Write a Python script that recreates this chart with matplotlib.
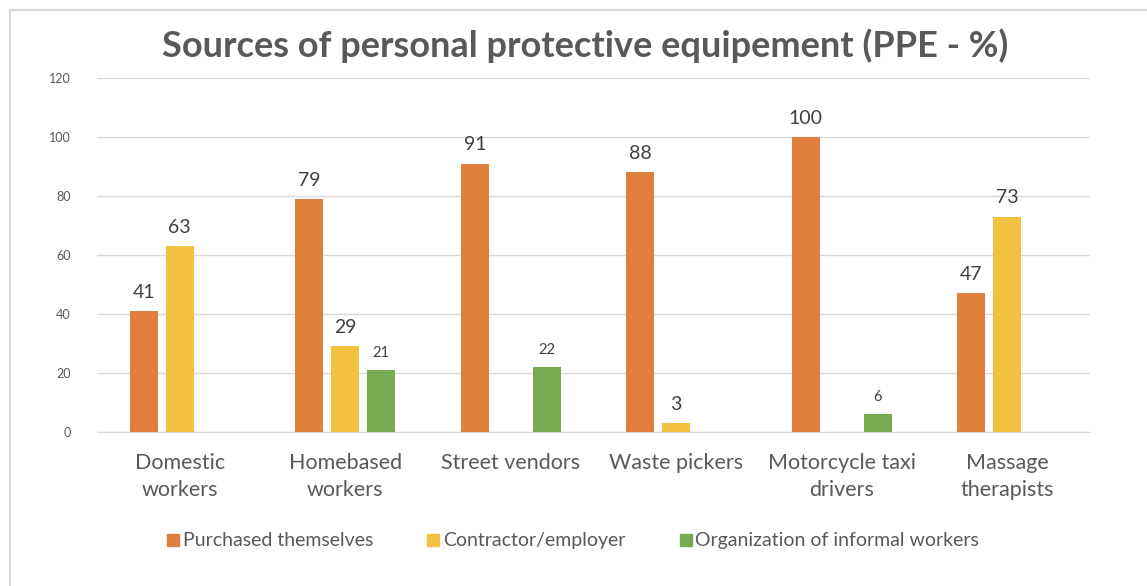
import matplotlib
matplotlib.use("Agg")
import numpy as np
import matplotlib.pyplot as plt
from matplotlib.lines import Line2D

plt.rcParams['font.family'] = ['Lato', 'DejaVu Sans']

categories = ["Domestic\nworkers", "Homebased\nworkers", "Street vendors",
              "Waste pickers", "Motorcycle taxi\ndrivers", "Massage\ntherapists"]
series_names = ["Purchased themselves", "Contractor/employer",
                "Organization of informal workers"]
purchased = [41, 79, 91, 88, 100, 47]
contractor = [63, 29, None, 3, None, 73]
organization = [None, 21, 22, None, 6, None]
colors = ["#E0803F", "#F3C140", "#78AA52"]

# small labels in the original (Excel used a smaller font on these)
small_labels = {(2, 1), (2, 2), (2, 4)}

fig = plt.figure(figsize=(11.47, 5.86), dpi=100)
ax = fig.add_axes([0.0846, 0.2628, 0.8657, 0.6041])

x = np.arange(len(categories))
step = 0.2175
width = 0.17
txt_col = "#595959"

for si, vals in enumerate([purchased, contractor, organization]):
    off = (si - 1) * step
    for ci, v in enumerate(vals):
        if v is None:
            continue
        ax.bar(x[ci] + off, v, width=width, color=colors[si], zorder=3)
        fs = 10.5 if (si, ci) in small_labels else 14
        ax.text(x[ci] + off, v + 3.5, str(v), ha="center", va="bottom",
                fontsize=fs, color="#404040")

ax.set_xlim(-0.5, len(categories) - 0.5)
ax.set_ylim(0, 120)
ax.set_yticks(range(0, 121, 20))
ax.grid(axis="y", color="#D9D9D9", linewidth=1, zorder=0)
for s in ["top", "right", "left"]:
    ax.spines[s].set_visible(False)
ax.spines["bottom"].set_color("#D9D9D9")
ax.tick_params(axis="y", length=0, pad=19, labelsize=9, labelcolor=txt_col)
ax.tick_params(axis="x", length=0, pad=15, labelsize=15.5, labelcolor=txt_col)
ax.set_xticks(x)
ax.set_xticklabels(categories, linespacing=1.45)

fig.text(0.51, 0.922, "Sources of personal protective equipement (PPE - %)",
         ha="center", va="center", fontsize=26, fontweight="bold", color=txt_col)

handles = [Line2D([], [], marker="s", linestyle="none", markersize=8,
                  markerfacecolor=c, markeredgecolor=c) for c in colors]
fig.legend(handles, series_names, loc="center", bbox_to_anchor=(0.498, 0.077),
           ncol=3, frameon=False, fontsize=14, labelcolor=txt_col,
           handletextpad=0.0, columnspacing=2.6, handlelength=1.0)

# outer chart border (top and left visible)
fig.add_artist(Line2D([10 / 1147, 1], [1 - 10 / 586, 1 - 10 / 586],
                      transform=fig.transFigure, color="#D9D9D9", linewidth=1.5))
fig.add_artist(Line2D([10 / 1147, 10 / 1147], [0, 1 - 10 / 586],
                      transform=fig.transFigure, color="#D9D9D9", linewidth=1.5))

fig.savefig("out.png", dpi=100)
